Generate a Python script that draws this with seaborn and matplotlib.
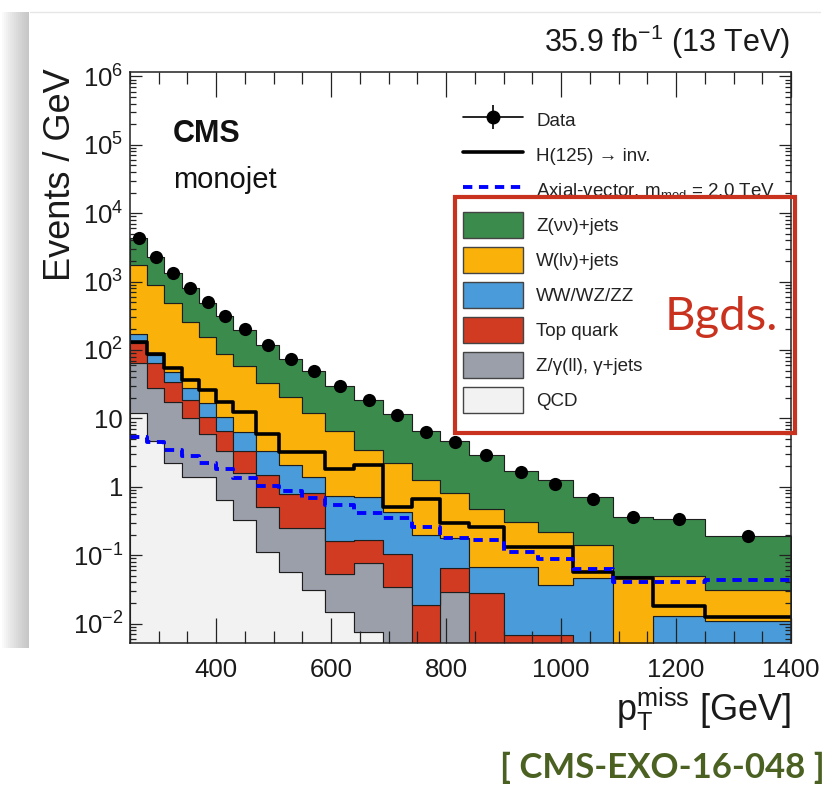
import numpy as np
import pandas as pd
import matplotlib
matplotlib.use("Agg")
import matplotlib.pyplot as plt
import seaborn as sns
from matplotlib.patches import Patch, Rectangle
from matplotlib.lines import Line2D
from matplotlib.legend_handler import HandlerTuple
from matplotlib.ticker import LogLocator, FuncFormatter, MultipleLocator, NullFormatter

# ---------------- data (events / GeV) ----------------
edges = [250, 280, 310, 340, 370, 400, 430, 470, 510, 550, 590, 640, 690,
         740, 790, 840, 900, 960, 1020, 1090, 1160, 1250, 1400]

data_vals = [4385, 2312, 1349, 814, 503, 317, 201, 118, 73.9, 49.8, 30.1,
             18.6, 11.2, 6.4, 4.57, 2.92, 1.66, 1.10, 0.656, 0.366, 0.338, 0.191]

zjets = [2550, 1410, 858, 540, 338, 223, 141, 84, 52, 37, 23.6, 15.2, 9.3,
         5.3, 3.8, 2.4, 1.37, 1.03, 0.56, 0.31, 0.29, 0.16]
wjets = [1580, 809, 434, 232, 140, 78, 51, 29.3, 18.7, 10.4, 5.7, 2.73, 1.77,
         1.06, 0.64, 0.40, 0.24, 0.18, 0.094, 0.047, 0.037, 0.020]
diboson = [42, 20, 13.6, 8.9, 6.0, 4.2, 3.1, 1.8, 1.3, 0.6, 0.58, 0.55, 0.33,
           0.18, 0.115, 0.039, 0.060, 0.030, 0.046, 0.003, 0.013, 0.011]
topq = [64, 36, 17, 8.6, 4.6, 3.1, 1.7, 1.0, 0.55, 0.55, 0.11, 0.092, 0.071,
        0.019, 0.036, 0.028, 0.0067, 0.0069, 0, 0, 0, 0]
zgamma = [52, 23, 15.3, 8.6, 4.6, 2.7, 1.27, 0.40, 0.19, 0.22, 0.038, 0.070,
          0.034, 0, 0.029, 0, 0, 0, 0, 0, 0, 0]
qcd = [12, 4.6, 2.2, 1.4, 1.4, 0.64, 0.33, 0.11, 0.056, 0.031, 0.015, 0.0075,
       0, 0, 0, 0, 0, 0, 0, 0, 0, 0]

hinv = [132, 87, 54, 36, 26, 17.6, 12.5, 6.0, 3.2, 3.2, 1.85, 2.1, 0.51, 0.66,
        0.30, 0.26, 0.13, 0.13, 0.057, 0.046, 0.018, 0.0124]
axial = [5.4, 4.5, 3.4, 2.85, 2.2, 1.8, 1.35, 1.03, 0.87, 0.69, 0.54, 0.41,
         0.35, 0.26, 0.18, 0.167, 0.11, 0.088, 0.063, 0.041, 0.040, 0.043]

proc_labels = ["Z(νν)+jets", "W(lν)+jets", "WW/WZ/ZZ", "Top quark",
               "Z/γ(ll), γ+jets", "QCD"]
proc_values = [zjets, wjets, diboson, topq, zgamma, qcd]
proc_colors = ["#3b8c4c", "#fab20b", "#4a9bd9", "#d13b22", "#9b9fa9", "#f2f2f2"]

# ---------------- style ----------------
sns.set_style("ticks")
plt.rcParams["font.family"] = ["Liberation Sans", "DejaVu Sans"]
plt.rcParams["mathtext.fontset"] = "custom"
plt.rcParams["mathtext.rm"] = "Liberation Sans"
plt.rcParams["mathtext.it"] = "Liberation Sans:italic"
plt.rcParams["mathtext.bf"] = "Liberation Sans:bold"
plt.rcParams["axes.linewidth"] = 1.1

centers = [(a + b) / 2 for a, b in zip(edges[:-1], edges[1:])]
rows = []
for lab, vals in zip(proc_labels, proc_values):
    for c, v in zip(centers, vals):
        rows.append({"pt": c, "val": v, "proc": lab})
df = pd.DataFrame(rows)

W, H = 835, 786
fig = plt.figure(figsize=(W / 100, H / 100), dpi=100)
fig.patch.set_facecolor("white")

# card shadow on the left edge
for i in range(14):
    fig.patches.append(Rectangle(((28 - 2 * i) / W, 1 - 648 / H), (2 * i + 1) / W,
                                 (648 - 12) / H, transform=fig.transFigure,
                                 facecolor="#7a7a7a", alpha=0.035,
                                 edgecolor="none", zorder=0))
fig.add_artist(Line2D([30 / W, 820 / W], [1 - 12 / H, 1 - 12 / H],
                      transform=fig.transFigure, color="#e6e6e6", lw=1))

ax = fig.add_axes([130 / W, 1 - 643 / H, 661 / W, 571 / H])
ax.set_facecolor("white")

sns.histplot(data=df, x="pt", weights="val", hue="proc",
             hue_order=proc_labels, palette=dict(zip(proc_labels, proc_colors)),
             bins=edges, multiple="stack", element="step", fill=True,
             alpha=1, edgecolor="#1e1e1e", linewidth=0.8, legend=False, ax=ax)

sns.histplot(x=centers, weights=hinv, bins=edges, element="step", fill=False,
             color="black", linewidth=2.6, ax=ax)
sns.histplot(x=centers, weights=axial, bins=edges, element="step", fill=False,
             color="#0000ff", linewidth=2.8, linestyle=(0, (2.4, 1.7)), ax=ax)
sns.scatterplot(x=centers, y=data_vals, color="black", s=90, linewidth=0,
                ax=ax, zorder=6)

ax.set_yscale("log")
ax.set_xlim(250, 1400)
ax.set_ylim(0.0052, 1.16e6)
ax.set_axisbelow(False)

# ticks
ax.xaxis.set_major_locator(MultipleLocator(200))
ax.xaxis.set_minor_locator(MultipleLocator(50))
ax.yaxis.set_major_locator(LogLocator(base=10, numticks=30))
ax.yaxis.set_minor_locator(LogLocator(base=10, subs=np.arange(2, 10), numticks=300))
ax.yaxis.set_minor_formatter(NullFormatter())


def yfmt(v, pos):
    e = int(round(np.log10(v)))
    if e == 0:
        return "1"
    if e == 1:
        return "10"
    return r"$10^{%d}$" % e if e > 0 else r"$10^{\mathrm{-%d}}$" % (-e)


ax.yaxis.set_major_formatter(FuncFormatter(yfmt))
ax.tick_params(which="both", direction="in", top=True, right=True,
               colors="#222222", width=0.9)
ax.tick_params(axis="x", which="major", length=18, pad=11, labelsize=18.5,
               labelcolor="#1a1a1a")
ax.tick_params(axis="x", which="minor", length=8.5)
ax.tick_params(axis="y", which="major", length=8.5, pad=5, labelsize=18.5,
               labelcolor="#1a1a1a")
ax.tick_params(axis="y", which="minor", length=4.5)
for s in ax.spines.values():
    s.set_color("#222222")
    s.set_zorder(10)

ax.set_ylabel("Events / GeV", fontsize=26, loc="top", color="#1a1a1a")
ax.yaxis.set_label_coords(-0.078, 1.007)
ax.set_xlabel(r"$\mathrm{p}_{\mathrm{T}}^{\mathrm{miss}}$ [GeV]", fontsize=26,
              loc="right", color="#1a1a1a")
ax.xaxis.set_label_coords(1.0, -0.075)

# texts
fig.text(173 / W, 1 - 142 / H, "CMS", fontsize=22, fontweight="bold",
         color="#111111", ha="left", va="baseline")
fig.text(173 / W, 1 - 188 / H, "monojet", fontsize=21, color="#111111",
         ha="left", va="baseline")
fig.text(790 / W, 1 - 52 / H, r"35.9 fb$^{\mathrm{-1}}$ (13 TeV)", fontsize=22,
         color="#1a1a1a", ha="right", va="baseline")

# legend
fs = 13.5
data_handle = (Line2D([], [], color="black", lw=1.2, marker="o", ms=9),
               Line2D([], [], color="black", ls="none", marker="|", ms=17, mew=1.2))
handles = [data_handle,
           Line2D([], [], color="black", lw=2.6),
           Line2D([], [], color="#0000ff", lw=2.8, ls=(0, (2.4, 1.7)))]
labels = ["Data", "H(125) → inv.", r"Axial-vector, m$_{\mathrm{med}}$ = 2.0 TeV"]
for lab, col in zip(proc_labels, proc_colors):
    handles.append(Patch(facecolor=col, edgecolor="#444444", linewidth=1.0))
    labels.append(lab)
leg = ax.legend(handles, labels, loc="upper left",
                bbox_to_anchor=(463 / W, 1 - 107 / H),
                bbox_transform=fig.transFigure, frameon=False, fontsize=fs,
                handlelength=3.2, handleheight=1.76, labelspacing=0.48,
                handletextpad=0.7, borderpad=0, borderaxespad=0,
                handler_map={tuple: HandlerTuple(ndivide=1)})
for t in leg.get_texts():
    t.set_color("#222222")
leg.set_zorder(20)

# annotation box "Bgds."
fig.patches.append(Rectangle((455 / W, 1 - 433 / H), 340 / W, 236 / H,
                             transform=fig.transFigure, facecolor="none",
                             edgecolor="#c8321e", linewidth=3.0, zorder=30))
fig.text(721 / W, 1 - 330 / H, "Bgds.", fontsize=34, color="#c8321e",
         family=["Lato", "DejaVu Sans"], ha="center", va="baseline", zorder=31)
fig.text(825 / W, 1 - 778 / H, "[ CMS-EXO-16-048 ]", fontsize=25,
         fontweight="bold", color="#4a6122", family=["Lato", "DejaVu Sans"],
         ha="right", va="baseline")

fig.savefig("out.png", dpi=100)
